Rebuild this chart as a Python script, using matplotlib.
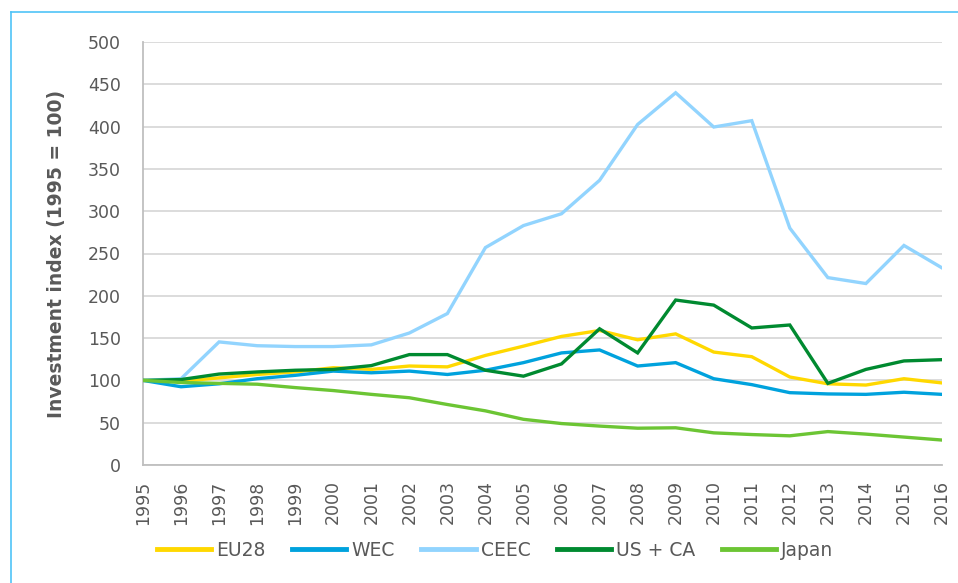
import matplotlib.pyplot as plt
from matplotlib.lines import Line2D

years = list(range(1995, 2017))

eu28 = [100, 99, 103, 107, 110, 115, 113, 117, 116, 129.5, 140.5, 152, 159, 148, 155,
        133.5, 128, 104, 96, 94.5, 102, 97]
wec = [100, 92.5, 96, 102, 106, 111, 109, 111, 107, 112, 121, 132.5, 136, 117, 121,
       102, 95, 85.5, 84, 83.5, 86, 83.5]
ceec = [100, 102, 145.5, 141, 140, 140, 142, 156, 179, 257, 283, 297, 336.5, 402.5, 440,
        399.5, 407, 280, 221.5, 214.5, 259.5, 233]
usca = [100, 101, 107.5, 110, 112, 113, 117.5, 130.5, 130.5, 112, 105, 119.5, 161, 132.5, 195,
        189, 162, 165.5, 96.5, 113, 123, 124.5]
japan = [100, 97.5, 96.5, 95.5, 91.5, 88, 83.5, 79.5, 71.5, 64, 54, 49, 46, 43.5, 44,
         38, 36, 34.5, 39.5, 36.5, 33, 29.5]

series = [
    ("EU28", eu28, "#FFD800"),
    ("WEC", wec, "#00A2DD"),
    ("CEEC", ceec, "#92D4FE"),
    ("US + CA", usca, "#008A30"),
    ("Japan", japan, "#6CC534"),
]

text_col = "#595959"

fig = plt.figure(figsize=(9.58, 5.83), dpi=100)
ax = fig.add_axes([143 / 958, 1 - 465 / 583, (942 - 143) / 958, (465 - 42) / 583])

# draw order: US + CA on top
order = [4, 2, 1, 0, 3]
for i in order:
    name, vals, col = series[i]
    ax.plot(years, vals, color=col, lw=2.4, solid_joinstyle="miter", zorder=3 + i)

ax.set_xlim(1995, 2016)
ax.set_ylim(0, 500)
ax.set_yticks(range(0, 501, 50))
ax.set_xticks(years)
ax.set_xticklabels([str(y) for y in years], rotation=90, fontsize=12.5)
ax.grid(axis="y", color="#D9D9D9", lw=1.3)
ax.set_axisbelow(True)
ax.tick_params(axis="both", length=0, colors=text_col)
ax.tick_params(axis="y", labelsize=12.5, pad=16)
ax.tick_params(axis="x", pad=11)
for s in ["top", "right"]:
    ax.spines[s].set_visible(False)
for s in ["left", "bottom"]:
    ax.spines[s].set_color("#BFBFBF")
    ax.spines[s].set_linewidth(1.3)
ax.set_ylabel("Investment index (1995 = 100)", fontsize=13.5, fontweight="bold",
              color=text_col)
ax.yaxis.set_label_coords(-0.096, 0.5)

handles = [Line2D([], [], color=c, lw=3.5) for _, _, c in series]
fig.legend(handles, [n for n, _, _ in series], loc="center left", ncol=5,
           bbox_to_anchor=(157 / 958, 1 - 550 / 583), frameon=False, fontsize=13.5,
           borderpad=0, borderaxespad=0,
           labelcolor=text_col, handlelength=2.9, handletextpad=0.27, columnspacing=1.4)

# light blue frame along the top and left edges
fig.add_artist(Line2D([11 / 958, 11 / 958], [0, 1 - 12 / 583], color="#4FC3F7", lw=1.2))
fig.add_artist(Line2D([11 / 958, 1], [1 - 12 / 583, 1 - 12 / 583], color="#4FC3F7", lw=1.2))

fig.savefig("out.png", dpi=100)
